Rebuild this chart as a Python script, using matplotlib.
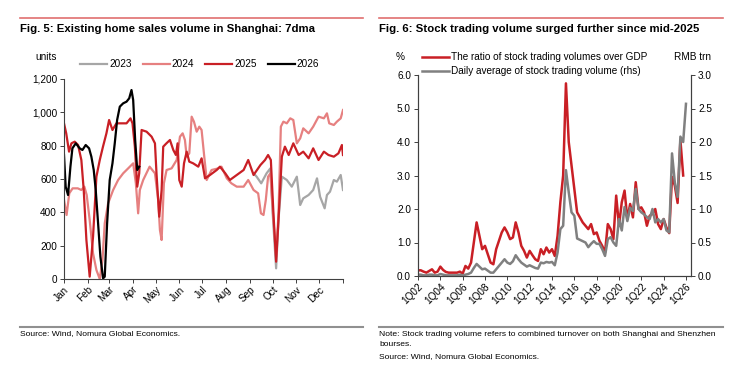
import matplotlib
matplotlib.use('Agg')
import matplotlib.pyplot as plt
from matplotlib.lines import Line2D
from matplotlib.ticker import FuncFormatter

plt.rcParams['font.family'] = ['Liberation Sans', 'DejaVu Sans']

# ---- Fig. 5 data: Shanghai existing home sales, 7dma (day of year, units)
months = ['Jan', 'Feb', 'Mar', 'Apr', 'May', 'Jun', 'Jul', 'Aug', 'Sep', 'Oct', 'Nov', 'Dec']
month_start = [0, 31, 59, 90, 120, 151, 181, 212, 243, 273, 304, 334, 365]

d2023 = [248, 252, 258, 265, 270, 273, 277.5, 280.6, 285, 291.5, 298, 304.6, 309, 313, 320,
         326, 331, 335, 341, 344, 348, 353, 357, 362, 365]
v2023 = [634, 614, 574, 634, 664, 394, 64, 354, 614, 594, 554, 614, 444, 484, 504,
         534, 604, 494, 424, 504, 524, 594, 584, 624, 534]

d2024 = [0, 3.4, 6.9, 11.3, 18, 22.7, 26.6, 29.7, 33.6, 38, 42.4, 46.8, 50.3, 53.3, 57.7,
         64.3, 70.8, 77.4, 84, 90.5, 94, 97, 99.2, 103.6, 112, 119, 123.2, 125.5, 127.7,
         130.7, 134.2, 140.8, 147.4, 151.7, 155.2, 158.2, 160.5, 163.9, 167, 170, 173.6,
         177, 180, 183.5, 186.7, 193, 202, 206, 213, 219, 226, 235, 241, 248, 254, 257.6,
         261, 264, 267, 270, 274, 277.5, 280.6, 283.7, 287, 291.5, 296, 300, 304.6, 309,
         313, 320, 326, 333, 340, 344, 347, 353, 357, 362, 365]
v2024 = [474, 384, 514, 544, 544, 534, 554, 504, 354, 154, 54, 0, 114, 334, 454,
         534, 594, 634, 664, 694, 574, 394, 534, 594, 674, 634, 474, 294, 234,
         574, 654, 664, 714, 854, 874, 834, 734, 754, 974, 944, 884,
         914, 894, 734, 594, 654, 664, 674, 604, 574, 554, 554, 594, 534, 514, 394,
         384, 474, 614, 634, 354, 134, 394, 914, 944, 934, 964, 954, 814, 844,
         904, 874, 914, 974, 964, 994, 934, 924, 944, 964, 1014]

d2025 = [0, 2.9, 6.6, 9.7, 14, 18.4, 22.7, 25.8, 29.3, 33.6, 38, 42.4, 46.8, 51, 55.5,
         59, 63.4, 68.6, 75.2, 81.8, 87, 89.6, 92.7, 95.8, 98.4, 101.5, 108, 114.6, 119,
         121, 124.6, 127.7, 129.8, 134, 138.6, 143, 146.4, 148.6, 150.8, 154, 157, 160.5,
         163.9, 169, 175.7, 180, 184.5, 191, 199.8, 204, 211, 217, 226, 235, 241, 248,
         257, 263, 267, 270.6, 274, 277.5, 280.6, 285, 289, 294, 300, 307, 313, 320, 326,
         333, 340, 346, 353, 359, 363.6, 365]
v2025 = [934, 874, 764, 814, 824, 804, 714, 534, 234, 14, 254, 614, 714, 794, 874,
         954, 894, 934, 934, 934, 964, 934, 794, 554, 634, 894, 884, 854, 814,
         634, 374, 534, 794, 814, 834, 774, 744, 814, 594, 554, 694, 764,
         704, 694, 674, 724, 604, 624, 654, 674, 634, 594, 624, 654, 714, 624,
         684, 714, 744, 714, 394, 104, 354, 734, 794, 744, 814, 744, 764, 724, 784,
         714, 764, 744, 734, 754, 804, 744]

d2026 = [0, 2.2, 5.3, 8.4, 11, 15.4, 20.6, 24.1, 28.4, 32.8, 35.8, 38.9, 41.5, 44.6, 47.6,
         51.1, 53.3, 56.4, 59.8, 63.4, 66.4, 69.5, 73, 77.4, 81.8, 85.3, 88.3, 90.5, 93.1,
         95.8, 98.4]
v2026 = [744, 554, 504, 674, 784, 814, 784, 774, 804, 784, 734, 654, 534, 334, 134,
         4, 14, 334, 594, 694, 814, 954, 1034, 1054, 1064, 1084, 1134, 1074, 834,
         654, 674]

# ---- Fig. 6 data: quarterly from 1Q02
ratio_gdp = [0.17, 0.17, 0.13, 0.10, 0.15, 0.20, 0.10, 0.13, 0.28, 0.18, 0.12, 0.10,
             0.10, 0.10, 0.10, 0.13, 0.07, 0.30, 0.22, 0.40, 1.00, 1.60, 1.20, 0.80,
             0.90, 0.65, 0.40, 0.35, 0.80, 1.05, 1.30, 1.45, 1.30, 1.10, 1.15, 1.60,
             1.30, 0.90, 0.75, 0.55, 0.75, 0.62, 0.50, 0.45, 0.80, 0.65, 0.85, 0.70,
             0.80, 0.60, 1.20, 2.20, 3.00, 5.75, 4.00, 3.30, 2.60, 1.90, 1.75, 1.60,
             1.50, 1.40, 1.55, 1.25, 1.30, 1.05, 0.90, 0.70, 1.55, 1.40, 1.10, 2.40,
             1.50, 2.20, 2.55, 1.70, 2.15, 1.75, 2.80, 2.00, 2.05, 1.90, 1.50, 1.80,
             1.85, 2.00, 1.55, 1.40, 1.70, 1.45, 1.28, 2.96, 2.70, 2.18, 4.06, 3.00]
daily_turnover = [0.02, 0.02, 0.01, 0.01, 0.02, 0.02, 0.01, 0.01, 0.03, 0.02, 0.01, 0.01,
                  0.01, 0.01, 0.01, 0.02, 0.01, 0.02, 0.03, 0.05, 0.12, 0.18, 0.14, 0.10,
                  0.11, 0.08, 0.05, 0.05, 0.10, 0.15, 0.20, 0.25, 0.20, 0.18, 0.22, 0.31,
                  0.25, 0.20, 0.17, 0.14, 0.16, 0.14, 0.12, 0.11, 0.20, 0.19, 0.21, 0.20,
                  0.21, 0.16, 0.35, 0.70, 0.75, 1.58, 1.25, 0.95, 0.90, 0.56, 0.54, 0.52,
                  0.50, 0.43, 0.48, 0.52, 0.48, 0.48, 0.40, 0.30, 0.55, 0.58, 0.50, 0.45,
                  0.85, 0.68, 1.03, 0.82, 1.02, 0.97, 1.30, 1.00, 0.95, 0.92, 0.88, 0.85,
                  1.00, 0.80, 0.85, 0.80, 0.85, 0.68, 0.65, 1.83, 1.40, 1.18, 2.08, 2.00,
                  2.57]
q_labels = ['1Q02', '1Q04', '1Q06', '1Q08', '1Q10', '1Q12', '1Q14', '1Q16', '1Q18',
            '1Q20', '1Q22', '1Q24', '1Q26']

t_ratio = [2002 + i / 4 for i in range(len(ratio_gdp))]
t_turn = [2002 + i / 4 for i in range(len(daily_turnover))]

RED = '#C91F25'
LRED = '#E68080'
GREY = '#A6A6A6'
DGREY = '#808080'
RULE = '#E07070'

fig = plt.figure(figsize=(7.45, 3.76), dpi=100)

# header rules and titles
fig.add_artist(Line2D([20 / 745, 363 / 745], [1 - 18 / 376] * 2, color=RULE, lw=1.2))
fig.add_artist(Line2D([379 / 745, 723 / 745], [1 - 18 / 376] * 2, color=RULE, lw=1.2))
fig.text(20 / 745, 1 - 29 / 376, 'Fig. 5: Existing home sales volume in Shanghai: 7dma',
         fontsize=8.2, fontweight='bold', va='center')
fig.text(379 / 745, 1 - 29 / 376, 'Fig. 6: Stock trading volume surged further since mid-2025',
         fontsize=8.2, fontweight='bold', va='center')

# footer rules and notes
fig.add_artist(Line2D([20 / 745, 363 / 745], [1 - 327 / 376] * 2, color='#909090', lw=1.5))
fig.add_artist(Line2D([379 / 745, 723 / 745], [1 - 327 / 376] * 2, color='#909090', lw=1.5))
fig.text(20 / 745, 1 - 334 / 376, 'Source: Wind, Nomura Global Economics.', fontsize=6.1, va='center')
fig.text(379 / 745, 1 - 334 / 376,
         'Note: Stock trading volume refers to combined turnover on both Shanghai and Shenzhen',
         fontsize=6.1, va='center')
fig.text(379 / 745, 1 - 345 / 376, 'bourses.', fontsize=6.1, va='center')
fig.text(379 / 745, 1 - 357 / 376, 'Source: Wind, Nomura Global Economics.', fontsize=6.1, va='center')

# ---- left chart
ax1 = fig.add_axes([64 / 745, 1 - 279 / 376, (343 - 64) / 745, 200 / 376])
ax1.plot(d2023, v2023, color=GREY, lw=1.6, label='2023')
ax1.plot(d2024, v2024, color=LRED, lw=1.6, label='2024')
ax1.plot(d2025, v2025, color=RED, lw=1.6, label='2025')
ax1.plot(d2026, v2026, color='black', lw=1.6, label='2026')
ax1.set_xlim(0, 365)
ax1.set_ylim(0, 1200)
ax1.set_yticks(range(0, 1201, 200))
ax1.yaxis.set_major_formatter(FuncFormatter(lambda v, p: '{:,.0f}'.format(v)))
ax1.set_xticks(month_start)
ax1.set_xticklabels(months + [''], rotation=45, ha='right', rotation_mode='anchor')
for s in ['top', 'right']:
    ax1.spines[s].set_visible(False)
for s in ['left', 'bottom']:
    ax1.spines[s].set_color('#404040')
    ax1.spines[s].set_linewidth(0.8)
ax1.tick_params(labelsize=7.2, length=3, width=0.7, color='#404040', pad=2)
ax1.tick_params(axis='x', pad=1)
fig.text(46 / 745, 1 - 57 / 376, 'units', fontsize=7.2, ha='center', va='center')
ax1.legend(loc='center left', bbox_to_anchor=(80 / 745, 1 - 64 / 376), bbox_transform=fig.transFigure,
           ncol=4, frameon=False, fontsize=7.2, handlelength=2.7, handletextpad=0.2,
           columnspacing=1.1, borderaxespad=0, borderpad=0)

# ---- right chart
ax2 = fig.add_axes([418 / 745, 1 - 276 / 376, (691 - 418) / 745, 201 / 376])
ax3 = ax2.twinx()
l1, = ax2.plot(t_ratio, ratio_gdp, color=RED, lw=1.8)
l2, = ax3.plot(t_turn, daily_turnover, color=DGREY, lw=1.8)
ax2.set_xlim(2002, 2026.45)
ax2.set_ylim(0, 6)
ax3.set_ylim(0, 3)
ax2.set_yticks([0, 1, 2, 3, 4, 5, 6])
ax3.set_yticks([0, 0.5, 1, 1.5, 2, 2.5, 3])
ax2.yaxis.set_major_formatter(FuncFormatter(lambda v, p: '{:.1f}'.format(v)))
ax3.yaxis.set_major_formatter(FuncFormatter(lambda v, p: '{:.1f}'.format(v)))
ax2.set_xticks(range(2002, 2027, 2))
ax2.set_xticklabels(q_labels, rotation=45, ha='right', rotation_mode='anchor')
for a in (ax2, ax3):
    a.spines['top'].set_visible(False)
    for s in ['left', 'right', 'bottom']:
        a.spines[s].set_color('#404040')
        a.spines[s].set_linewidth(0.8)
    a.tick_params(labelsize=7.2, length=3, width=0.7, color='#404040', pad=2)
ax2.tick_params(axis='x', pad=1)
fig.text(400 / 745, 1 - 57 / 376, '%', fontsize=7.2, ha='center', va='center')
fig.text(693 / 745, 1 - 57 / 376, 'RMB trn', fontsize=7.2, ha='center', va='center')
fig.legend([l1, l2], ['The ratio of stock trading volumes over GDP',
                      'Daily average of stock trading volume (rhs)'],
           loc='upper left', bbox_to_anchor=(422 / 745, 1 - 52 / 376), frameon=False,
           fontsize=7.2, handlelength=2.7, handletextpad=0.2, labelspacing=0.45,
           borderaxespad=0, borderpad=0)

fig.savefig('out.png', dpi=100)
